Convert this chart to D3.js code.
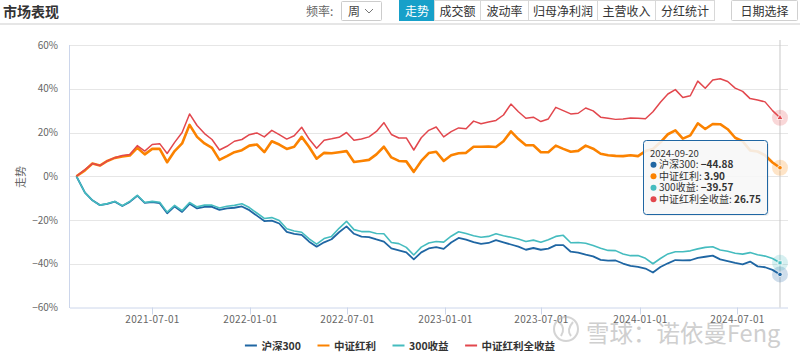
<!DOCTYPE html>
<html><head><meta charset="utf-8">
<script src="https://cdn.jsdelivr.net/npm/d3@7"></script>
<style>
html,body{margin:0;padding:0;background:#fff;}
svg{display:block;font-family:"Noto Sans CJK SC","Noto Sans",sans-serif;}
</style></head>
<body><svg id="c" width="800" height="357"></svg>
<script>
// ---------------- data ----------------
const firstDate = "2021-02-10";
const biweeklyStart = "2021-02-26";
const nBiweekly = 94;
const seriesNames = ["沪深300", "中证红利", "300收益", "中证红利全收益"];
const seriesColors = ["#1f66a3", "#fb8200", "#45bcbf", "#e2474d"];
const hs300 = [0, -7.5, -11, -13.2, -12.6, -11.6, -13.6, -11.7, -8.9, -12.2,
 -11.8, -12.3, -16.9, -13.8, -16.3, -12.6, -14.7, -14, -14, -15.4,
 -14.7, -14.4, -13.8, -15.5, -18, -20.5, -20.3, -21.6, -25.4, -26.3,
 -26.8, -29.9, -32.2, -30.2, -28.8, -25.6, -22.9, -26.3, -27.6, -27.8,
 -28.9, -29.9, -33, -33.9, -34.8, -38, -34.8, -33, -32.4, -33.2,
 -30.3, -28.2, -29, -30.1, -30.9, -30.5, -29.2, -30.2, -31.2, -32.2,
 -33.6, -32.8, -33.6, -33.1, -31.5, -31.5, -34.5, -34.9, -35.8, -36.6,
 -38.2, -38.6, -38.5, -39.9, -41, -41.4, -42.2, -44, -41.5, -39.8,
 -38.3, -38.5, -38.4, -37.3, -36.8, -36.3, -38, -38.8, -39.6, -40.3,
 -39, -41.2, -41.6, -42.8, -44.88];
const zzhl = [0, 2.7, 5.8, 4.9, 7, 8.4, 9, 9.5, 13, 10,
 12.5, 12.5, 6.4, 11.5, 15, 23.5, 18, 15, 13, 7.5,
 9.2, 11, 11.9, 14, 14.5, 11, 16, 14.5, 12.5, 13.5,
 18, 13.4, 8, 10.7, 10.5, 11, 11.5, 6.5, 7, 7.5,
 10, 13.5, 8.6, 7, 6.8, 2, 7, 10.6, 11.2, 7,
 9.6, 10.5, 10.7, 13.5, 13.5, 13.6, 13.4, 16, 20.5, 17,
 14.2, 14.2, 11, 11, 14, 12.5, 11.2, 11.6, 14, 12.6,
 10.3, 9.6, 9.3, 9.2, 9.6, 9.2, 11.5, 12.5, 15.5, 19.2,
 21, 17.2, 18.7, 24.2, 21.6, 23.9, 23.8, 21.5, 17.6, 16,
 11.8, 11.3, 9.6, 6.3, 3.9];
const hs300Total = [0, -7.5, -11, -13.2, -12.5, -11.5, -13.5, -11.5, -8.7, -12,
 -11.5, -11.9, -16.4, -13.3, -15.7, -12, -14, -13.2, -13.2, -14.5,
 -13.7, -13.3, -12.6, -14.3, -16.8, -19.3, -18.9, -20.2, -24, -25,
 -25.6, -28.6, -31, -28.5, -27.5, -23.8, -20.6, -24.4, -25.3, -25.3,
 -26.2, -26.3, -30.3, -30.8, -32.5, -36, -32.4, -30.5, -29.8, -30.1,
 -27.4, -25.4, -26.2, -27.2, -27.9, -27.5, -26.3, -27.2, -27.9, -28.7,
 -29.8, -29.2, -30.2, -29, -27.5, -27, -30.4, -30.3, -30.6, -31.7,
 -32.9, -33.9, -34, -35.5, -36.3, -36.2, -37.5, -40, -37.6, -35.5,
 -34.5, -34.5, -34.1, -33.2, -32.5, -32.2, -33.7, -34.3, -35.2, -35.6,
 -34.9, -35.9, -36.5, -37.6, -39.57];
const zzhlTotal = [0, 3, 5.8, 4.9, 7, 8.5, 9.5, 9.9, 14, 11.5,
 14.5, 14.9, 10.4, 15.5, 20, 28.5, 23.2, 19.5, 16.8, 12,
 13.7, 16, 16.8, 19, 19.8, 18, 21, 19, 17, 18.5,
 22.4, 17, 12.8, 16.5, 17.1, 17.8, 20, 16.5, 17, 18,
 20.5, 24.5, 19.1, 17.5, 17.5, 12, 17.6, 21, 22.5, 18,
 20.4, 22.1, 21.7, 25.2, 24, 24.8, 25.5, 28, 33, 29.5,
 26.5, 27, 25, 26.2, 31.5, 30, 28.5, 28.8, 31.2, 29.9,
 27, 26.5, 26, 26.2, 26.6, 26.5, 26.3, 29.5, 33.8, 37.6,
 39.6, 36, 36.8, 43.5, 40.2, 44, 44.6, 43.3, 40.3, 38.8,
 35.5, 34.9, 34, 30, 26.75];
const yTicks = [-60, -40, -20, 0, 20, 40, 60];
const xTickLabels = ["2021-07-01", "2022-01-01", "2022-07-01", "2023-01-01", "2023-07-01", "2024-01-01", "2024-07-01"];
const tabs = ["走势", "成交额", "波动率", "归母净利润", "主营收入", "分红统计"];
const tooltipDate = "2024-09-20";

// ---------------- build ----------------
const parse = d3.timeParse("%Y-%m-%d");
const dates = [parse(firstDate)].concat(d3.range(nBiweekly).map(i => d3.timeDay.offset(parse(biweeklyStart), 14 * i)));
const allSeries = [hs300, zzhl, hs300Total, zzhlTotal];

const svg = d3.select("#c");
const L = 70, R = 788, T = 45, B = 307.5;
const x = d3.scaleTime().domain([parse("2021-01-29"), parse("2024-10-05")]).range([L, R]);
const y = d3.scaleLinear().domain([-60, 60]).range([B, T]);

// header
svg.append("text").attr("x", 3).attr("y", 17).attr("font-size", 14).attr("font-weight", "bold").attr("fill", "#333").text("市场表现");
svg.append("text").attr("x", 306).attr("y", 16).attr("font-size", 12).attr("fill", "#666").text("频率:");
svg.append("rect").attr("x", 341.5).attr("y", 1.5).attr("width", 40).attr("height", 19).attr("fill", "#fff").attr("stroke", "#ccc").attr("rx", 1);
svg.append("text").attr("x", 348).attr("y", 16).attr("font-size", 12).attr("fill", "#444").text("周");
svg.append("path").attr("d", "M365,9 L369,13 L373,9").attr("fill", "none").attr("stroke", "#777").attr("stroke-width", 1);

const tabEdges = [399.5, 434.5, 480.5, 528.5, 597.5, 655.5, 714.5];
tabs.forEach((t, i) => {
  const x0 = tabEdges[i], x1 = tabEdges[i + 1];
  svg.append("rect").attr("x", x0).attr("y", 0.5).attr("width", x1 - x0).attr("height", 20)
    .attr("fill", i === 0 ? "#17a0c9" : "#fff").attr("stroke", i === 0 ? "#17a0c9" : "#d8d8d8");
  svg.append("text").attr("x", (x0 + x1) / 2).attr("y", 15.5).attr("text-anchor", "middle")
    .attr("font-size", 12).attr("fill", i === 0 ? "#fff" : "#333").text(t);
});
svg.append("rect").attr("x", 731.5).attr("y", 0.5).attr("width", 66).attr("height", 20).attr("fill", "#fff").attr("stroke", "#d0d0d0").attr("rx", 1);
svg.append("text").attr("x", 764.5).attr("y", 15.5).attr("text-anchor", "middle").attr("font-size", 12).attr("fill", "#333").text("日期选择");
svg.append("rect").attr("x", 0).attr("y", 23).attr("width", 800).attr("height", 2).attr("fill", "#e6e6e6");

// grid
const gy = svg.append("g");
gy.selectAll("line").data(yTicks.filter(v => v > -60)).join("line")
  .attr("x1", L).attr("x2", R).attr("y1", d => Math.round(y(d)) + 0.5).attr("y2", d => Math.round(y(d)) + 0.5)
  .attr("stroke", "#e6e6e6");
gy.selectAll("text").data(yTicks).join("text")
  .attr("x", 58).attr("y", d => y(d) + 3.5).attr("text-anchor", "end").attr("font-size", 10).attr("fill", "#666")
  .text(d => (d < 0 ? "\u2212" + Math.abs(d) : d) + "%");
svg.append("text").attr("transform", "translate(25,177) rotate(-90)").attr("text-anchor", "middle")
  .attr("font-size", 11).attr("fill", "#666").text("走势");

// axes lines
svg.append("line").attr("x1", L - 0.5).attr("x2", L - 0.5).attr("y1", T).attr("y2", B + 0.5).attr("stroke", "#ccd6eb");
svg.append("line").attr("x1", L).attr("x2", R).attr("y1", B + 0.5).attr("y2", B + 0.5).attr("stroke", "#ccd6eb");
const xt = svg.append("g");
xTickLabels.forEach(s => {
  const px = Math.round(x(parse(s))) + 0.5;
  xt.append("line").attr("x1", px).attr("x2", px).attr("y1", B).attr("y2", B + 7).attr("stroke", "#ccd6eb");
  xt.append("text").attr("x", px).attr("y", 323).attr("text-anchor", "middle").attr("font-size", 10)
    .attr("fill", "#666").attr("letter-spacing", 0.3).text(s);
});

// watermark
const wm = svg.append("g").attr("opacity", 0.5);
wm.append("circle").attr("cx", 566).attr("cy", 329).attr("r", 12).attr("fill", "none").attr("stroke", "#aaa").attr("stroke-width", 2);
wm.append("path").attr("d", "M559,322 Q566,328 561,336 M573,322 Q566,330 571,336").attr("fill", "none").attr("stroke", "#aaa").attr("stroke-width", 2);
wm.append("text").attr("x", 586).attr("y", 342).attr("font-size", 23.5).attr("fill", "#a0a0a0").text("雪球：诺依曼Feng");

// lines
const widths = [1.8, 2.6, 1.6, 1.5];
allSeries.forEach((vals, si) => {
  const line = d3.line().x((d, i) => x(dates[i])).y(d => y(d));
  svg.append("path").datum(vals).attr("d", line).attr("fill", "none")
    .attr("stroke", seriesColors[si]).attr("stroke-width", widths[si]).attr("stroke-linejoin", "round");
});

// crosshair
const lastX = x(dates[dates.length - 1]);
svg.append("line").attr("x1", lastX).attr("x2", lastX).attr("y1", T - 5).attr("y2", B).attr("stroke", "#c8c8c8").attr("stroke-width", 1);

// hover markers
const symbols = [d3.symbolCircle, d3.symbolCircle, d3.symbolSquare, d3.symbolTriangle];
allSeries.forEach((vals, si) => {
  const v = vals[vals.length - 1];
  svg.append("circle").attr("cx", lastX).attr("cy", y(v)).attr("r", 8).attr("fill", seriesColors[si]).attr("opacity", 0.22);
  svg.append("path").attr("d", d3.symbol().type(symbols[si]).size(16)())
    .attr("transform", `translate(${lastX},${y(v)})`).attr("fill", seriesColors[si]).attr("stroke", "#fff").attr("stroke-width", 0.8);
});

// tooltip
const tt = svg.append("g");
tt.append("rect").attr("x", 645).attr("y", 142).attr("width", 124).attr("height", 74).attr("rx", 3)
  .attr("fill", "#000").attr("opacity", 0.06);
tt.append("rect").attr("x", 643.5).attr("y", 140.5).attr("width", 124).attr("height", 74).attr("rx", 3)
  .attr("fill", "rgba(248,248,248,0.88)").attr("stroke", seriesColors[0]).attr("stroke-width", 1);
tt.append("text").attr("x", 650).attr("y", 156.5).attr("font-size", 9.5).attr("fill", "#333").text(tooltipDate);
allSeries.forEach((vals, si) => {
  const cy = 164.7 + si * 11.5;
  const v = vals[vals.length - 1];
  tt.append("circle").attr("cx", 653.5).attr("cy", cy).attr("r", 3).attr("fill", seriesColors[si]);
  const t = tt.append("text").attr("x", 659).attr("y", cy + 3.5).attr("font-size", 10).attr("fill", "#333");
  t.append("tspan").text(seriesNames[si] + ": ");
  t.append("tspan").attr("font-weight", "bold").text((v < 0 ? "\u2212" + Math.abs(v).toFixed(2) : v.toFixed(2)));
});

// legend
const lg = svg.append("g");
let cx = 0;
seriesNames.forEach((n, i) => {
  const g = lg.append("g").attr("transform", `translate(${cx},0)`);
  g.append("line").attr("x1", 0).attr("x2", 12).attr("y1", 345.5).attr("y2", 345.5).attr("stroke", seriesColors[i]).attr("stroke-width", 2);
  const t = g.append("text").attr("x", 16.5).attr("y", 349.5).attr("font-size", 10.5).attr("font-weight", "bold").attr("fill", "#333").text(n);
  const w = t.node().getComputedTextLength();
  cx += 16.5 + w + 16.5;
});
const totalW = cx - 16.5;
lg.attr("transform", `translate(${(800 - totalW) / 2},0)`);
</script></body></html>
